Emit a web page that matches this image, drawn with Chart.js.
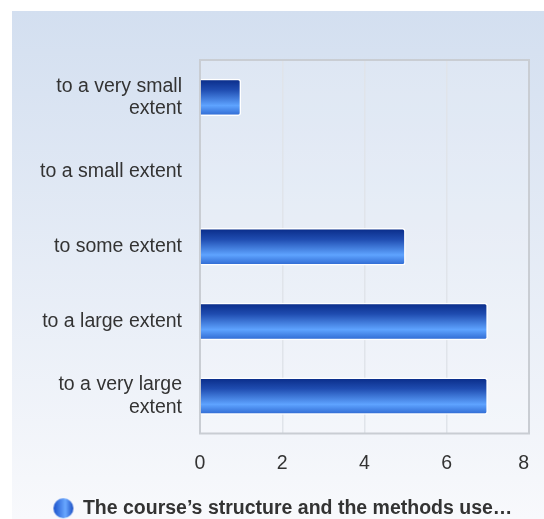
<!DOCTYPE html>
<html>
<head>
<meta charset="utf-8">
<script src="https://cdn.jsdelivr.net/npm/chart.js@4/dist/chart.umd.min.js"></script>
<style>
  html, body { margin: 0; padding: 0; background: #ffffff; }
  #wrap { width: 544px; height: 519px; position: relative; }
</style>
</head>
<body>
<div id="wrap"><canvas id="c" width="544" height="519"></canvas></div>
<script>
const categories = [["to a very small", "extent"], "to a small extent", "to some extent", "to a large extent", ["to a very large", "extent"]];
const seriesName = "The course’s structure and the methods use…";
const values = [1, 0, 5, 7, 7];
const xTicks = [0, 2, 4, 6, 8];

const FONT = "'Liberation Sans', Arial, sans-serif";

function barGradient(ctx) {
  const chart = ctx.chart;
  const y = chart.scales && chart.scales.y;
  if (!chart.chartArea || !y || y.getPixelForValue(ctx.dataIndex) === undefined) return '#2f62d0';
  const c = y.getPixelForValue(ctx.dataIndex);
  const cat = (chart.chartArea.bottom - chart.chartArea.top) / categories.length;
  const h = cat * 0.5;
  const g = chart.ctx.createLinearGradient(0, c - h / 2, 0, c + h / 2);
  g.addColorStop(0, '#082a86');
  g.addColorStop(0.3, '#1f4cb0');
  g.addColorStop(0.72, '#5ea3ff');
  g.addColorStop(1, '#2c66cf');
  return g;
}

const dot = document.createElement('canvas');
dot.width = 22; dot.height = 22;
(function () {
  const d = dot.getContext('2d');
  const g = d.createLinearGradient(1, 0, 21, 0);
  g.addColorStop(0, '#1a52cc');
  g.addColorStop(0.6, '#6aa8ff');
  g.addColorStop(1, '#1b4fc4');
  d.fillStyle = g;
  d.beginPath();
  d.arc(11, 11, 10, 0, Math.PI * 2);
  d.fill();
})();

const bgPlugin = {
  id: 'bg',
  afterLayout(chart) {
    const s = chart.scales.x;
    if (s && !s._patched) {
      const orig = s._computeLabelItems.bind(s);
      s._computeLabelItems = function (ca) {
        const items = orig(ca);
        const last = items[items.length - 1];
        if (last && last.options) last.options.textAlign = 'right';
        return items;
      };
      s._patched = true;
      s._labelItemsCache = null;
    }
  },
  beforeDraw(chart) {
    const ctx = chart.ctx;
    ctx.save();
    const g = ctx.createLinearGradient(0, 11, 0, 519);
    g.addColorStop(0, '#d3dff0');
    g.addColorStop(1, '#f8f9fc');
    ctx.fillStyle = g;
    ctx.fillRect(12, 11, 532, 508);
    const a = chart.chartArea;
    ctx.fillStyle = 'rgba(255,255,255,0.18)';
    ctx.fillRect(a.left, a.top, a.right - a.left, a.bottom - a.top);
    ctx.restore();
  },
  beforeDatasetsDraw(chart) {
    const ctx = chart.ctx;
    const a = chart.chartArea;
    ctx.save();
    ctx.strokeStyle = '#c9cdd3';
    ctx.lineWidth = 2;
    ctx.strokeRect(a.left, a.top, a.right - a.left, a.bottom - a.top);
    ctx.restore();
  }
};

new Chart(document.getElementById('c'), {
  type: 'bar',
  data: {
    labels: categories,
    datasets: [{
      label: seriesName,
      data: values,
      backgroundColor: barGradient,
      borderColor: '#ffffff',
      borderWidth: 1.5,
      borderRadius: 3,
      barPercentage: 0.5,
      categoryPercentage: 1.0,
      pointStyle: dot
    }]
  },
  options: {
    indexAxis: 'y',
    responsive: false,
    animation: false,
    events: [],
    layout: { padding: { left: 37, right: 15, top: 60, bottom: -9 } },
    scales: {
      x: {
        min: 0, max: 8,
        afterBuildTicks(scale) { scale.ticks = xTicks.map(v => ({ value: v })); },
        afterFit(scale) { scale.height = 62; scale.paddingLeft = 0; scale.paddingRight = 0; },
        grid: { color: '#e0e4ea', lineWidth: 1.5, drawTicks: false },
        border: { display: false },
        ticks: { color: '#333333', font: { family: FONT, size: 19.5 }, padding: 18 }
      },
      y: {
        afterFit(scale) { scale.width = 163; scale.paddingTop = 0; scale.paddingBottom = 0; },
        grid: { display: false, drawTicks: false },
        border: { display: false },
        ticks: { color: '#333333', font: { family: FONT, size: 19.5, lineHeight: 1.15 }, padding: 18 }
      }
    },
    plugins: {
      tooltip: { enabled: false },
      legend: {
        position: 'bottom',
        labels: {
          usePointStyle: true,
          color: '#333333',
          font: { family: FONT, size: 19.5, weight: 'bold' },
          padding: 3
        }
      }
    }
  },
  plugins: [bgPlugin]
});
</script>
</body>
</html>
